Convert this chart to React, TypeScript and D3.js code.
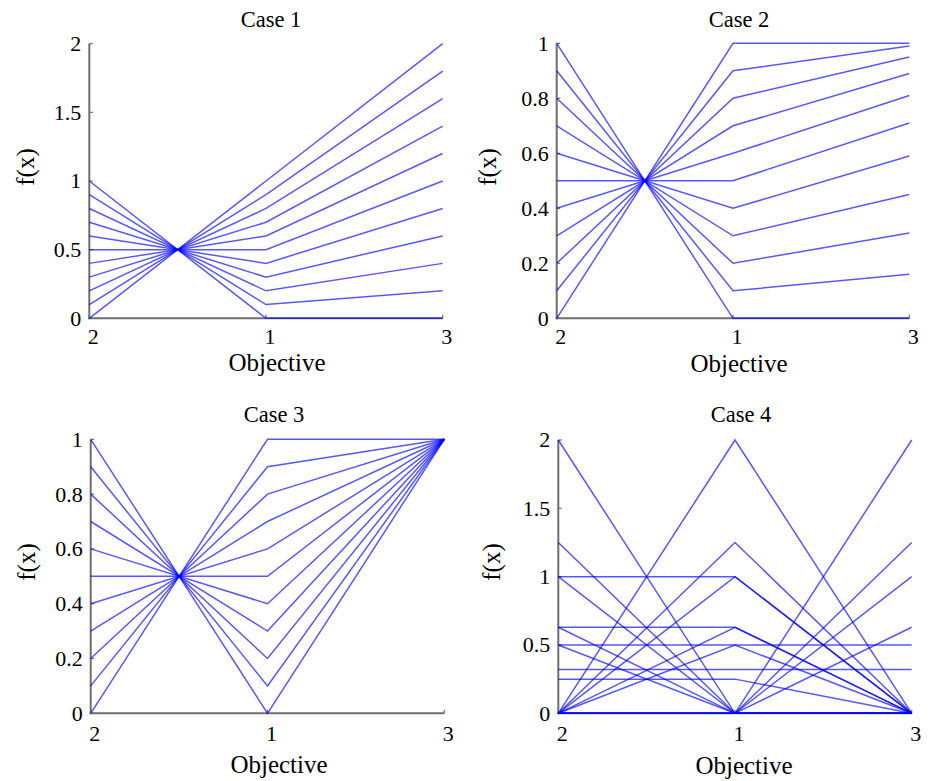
import React from "react";
import * as d3 from "d3";

// ---------- data ----------
const objectiveLabels = ["2", "1", "3"];

const case1Obj2 = [0, 0.1, 0.2, 0.3, 0.4, 0.5, 0.6, 0.7, 0.8, 0.9, 1];
const case1Obj1 = [1, 0.9, 0.8, 0.7, 0.6, 0.5, 0.4, 0.3, 0.2, 0.1, 0];
const case1Obj3 = [2, 1.8, 1.6, 1.4, 1.2, 1, 0.8, 0.6, 0.4, 0.2, 0];

const case2Obj2 = [0, 0.1, 0.2, 0.3, 0.4, 0.5, 0.6, 0.7, 0.8, 0.9, 1];
const case2Obj1 = [1, 0.9, 0.8, 0.7, 0.6, 0.5, 0.4, 0.3, 0.2, 0.1, 0];
const case2Obj3 = [1, 0.99, 0.95, 0.89, 0.81, 0.71, 0.59, 0.45, 0.31, 0.16, 0];

const case3Obj2 = [0, 0.1, 0.2, 0.3, 0.4, 0.5, 0.6, 0.7, 0.8, 0.9, 1];
const case3Obj1 = [1, 0.9, 0.8, 0.7, 0.6, 0.5, 0.4, 0.3, 0.2, 0.1, 0];
const case3Obj3 = [1, 1, 1, 1, 1, 1, 1, 1, 1, 1, 1];

const case4Obj2 = [2, 1.25, 1, 0.63, 0.5, 0, 0, 0, 0, 0, 0, 0, 0, 0, 1, 0.63, 0.5, 0.32, 0.25];
const case4Obj1 = [0, 0, 0, 0, 0, 2, 1.25, 1, 0.63, 0.5, 0, 0, 0, 0, 1, 0.63, 0.5, 0.32, 0.25];
const case4Obj3 = [0, 0, 0, 0, 0, 0, 0, 0, 0, 0, 2, 1.25, 1, 0.63, 0, 0, 0.5, 0.32, 0];

const ticksTo2 = [0, 0.5, 1, 1.5, 2];
const ticksTo1 = [0, 0.2, 0.4, 0.6, 0.8, 1];

const titles = ["Case 1", "Case 2", "Case 3", "Case 4"];

// ---------- layout ----------
const panels = [
  { title: titles[0], cols: [case1Obj2, case1Obj1, case1Obj3], yMax: 2, ticks: ticksTo2,
    x0: 89.3, x2: 442.7, yTop: 43.7, yBot: 318.3, titleX: 271, titleY: 27,
    tickY: 344, objX: 277, objY: 371, fxX: 34, fxY: 167 },
  { title: titles[1], cols: [case2Obj2, case2Obj1, case2Obj3], yMax: 1, ticks: ticksTo1,
    x0: 556.7, x2: 909.3, yTop: 43.3, yBot: 318.3, titleX: 739, titleY: 27,
    tickY: 344, objX: 739, objY: 372, fxX: 496, fxY: 167 },
  { title: titles[2], cols: [case3Obj2, case3Obj1, case3Obj3], yMax: 1, ticks: ticksTo1,
    x0: 90.7, x2: 444.3, yTop: 439.3, yBot: 713.3, titleX: 274, titleY: 422,
    tickY: 741, objX: 279, objY: 773, fxX: 35, fxY: 562 },
  { title: titles[3], cols: [case4Obj2, case4Obj1, case4Obj3], yMax: 2, ticks: ticksTo2,
    x0: 558.3, x2: 911.7, yTop: 440, yBot: 713.3, titleX: 741, titleY: 422,
    tickY: 741, objX: 744, objY: 774, fxX: 500, fxY: 562 },
];

const FONT = "Liberation Serif";
const AXIS = "#6e6e6e";
const LINE = "#0000ff";

function Panel({ p }: { p: any }) {
  const x = d3.scaleLinear().domain([0, 2]).range([p.x0, p.x2]);
  const y = d3.scaleLinear().domain([0, p.yMax]).range([p.yBot, p.yTop]);
  const line = d3
    .line<number>()
    .x((_, i) => x(i))
    .y((d) => y(d));
  const n = p.cols[0].length;
  const rows = d3.range(n).map((i) => p.cols.map((c: number[]) => c[i]));
  const fmt = (v: number) => String(Math.round(v * 100) / 100);
  const ts = { fontFamily: FONT, fill: "#000" } as React.CSSProperties;
  return (
    <g>
      {/* axes */}
      <line x1={p.x0} x2={p.x0} y1={p.yTop} y2={p.yBot + 1} stroke={AXIS} strokeWidth={2} />
      <line x1={p.x0 - 1} x2={p.x2} y1={p.yBot} y2={p.yBot} stroke={AXIS} strokeWidth={2} />
      {p.ticks.map((t: number) => (
        <g key={"yt" + t}>
          <line x1={p.x0} x2={p.x0 + 3.5} y1={y(t)} y2={y(t)} stroke={AXIS} strokeWidth={1.2} />
          <text x={p.x0 - 8} y={y(t)} dy="0.34em" textAnchor="end" style={{ ...ts, fontSize: 22 }}>
            {fmt(t)}
          </text>
        </g>
      ))}
      {objectiveLabels.map((lab, i) => (
        <g key={"xt" + i}>
          <line x1={x(i)} x2={x(i)} y1={p.yBot} y2={p.yBot - 3.5} stroke={AXIS} strokeWidth={1.2} />
          <text x={x(i) + 4} y={p.tickY} textAnchor="middle" style={{ ...ts, fontSize: 22 }}>
            {lab}
          </text>
        </g>
      ))}
      {/* data lines */}
      {rows.map((r: number[], i: number) => (
        <path key={i} d={line(r) || ""} fill="none" stroke={LINE} strokeOpacity={0.66} strokeWidth={1.5} />
      ))}
      {/* labels */}
      <text x={p.titleX} y={p.titleY} textAnchor="middle" style={{ ...ts, fontSize: 22.5 }}>
        {p.title}
      </text>
      <text x={p.objX} y={p.objY} textAnchor="middle" style={{ ...ts, fontSize: 25 }}>
        Objective
      </text>
      <text
        transform={`translate(${p.fxX},${p.fxY}) rotate(-90)`}
        textAnchor="middle"
        style={{ ...ts, fontSize: 25 }}
      >
        f(x)
      </text>
    </g>
  );
}

export default function App() {
  return (
    <svg
      width={931}
      height={781}
      viewBox="0 0 931 781"
      style={{ position: "absolute", left: 0, top: 0, background: "#fff" }}
    >
      <rect x={0} y={0} width={931} height={781} fill="#fff" />
      {panels.map((p, i) => (
        <Panel key={i} p={p} />
      ))}
    </svg>
  );
}
